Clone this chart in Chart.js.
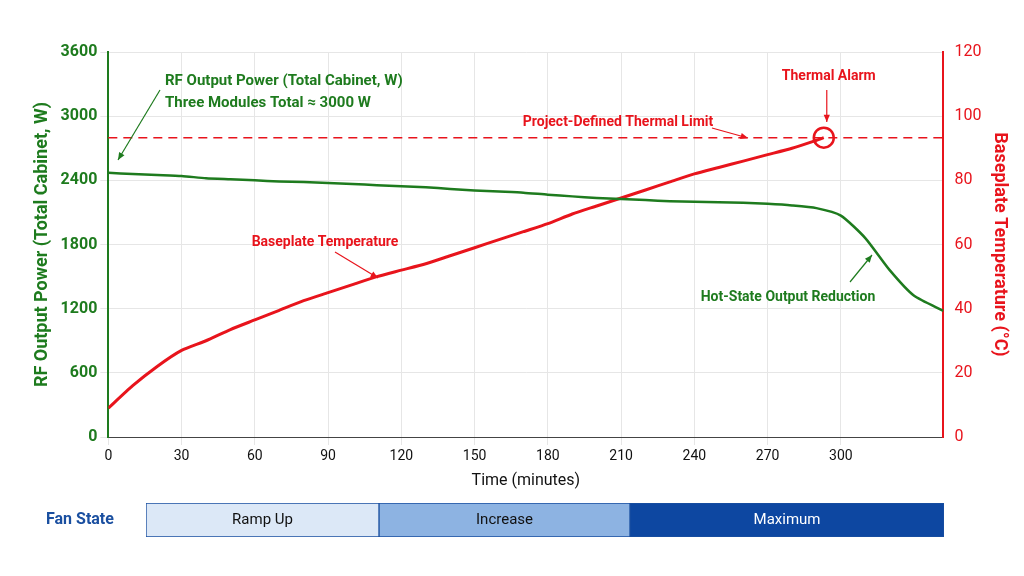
<!DOCTYPE html>
<html><head><meta charset="utf-8">
<script src="https://cdn.jsdelivr.net/npm/chart.js@4"></script>
<style>
body{margin:0;background:#fff;font-family:Roboto,sans-serif}
#w1{position:absolute;left:0;top:0;width:1024px;height:495px}
#w2{position:absolute;left:0;top:495px;width:1024px;height:50px}
</style></head><body>
<div id="w1"><canvas id="c1"></canvas></div>
<div id="w2"><canvas id="c2"></canvas></div>
<script>
const powerTimes=[0,10,20,30,40,50,60,70,80,90,100,110,120,130,140,150,160,170,180,190,200,210,220,230,240,250,260,270,280,290,300,310,320,330,342];
const powerValues=[2470,2460,2450,2440,2420,2410,2400,2390,2385,2375,2365,2355,2345,2335,2320,2305,2295,2285,2265,2250,2235,2225,2215,2205,2200,2195,2190,2180,2165,2140,2070,1860,1560,1320,1180];
const tempTimes=[0,10,20,30,40,50,60,70,80,90,100,110,120,130,140,150,160,170,180,190,200,210,220,230,240,250,260,270,280,290,293];
const tempValues=[9,16,22,27,30,33.5,36.5,39.5,42.5,45,47.5,50,52,54,56.5,59,61.5,64,66.5,69.5,72,74.5,77,79.5,82,84,86,88,90,92.5,93.3];
const thermalLimit=93.3, alarmTime=293;
const fanStates=["Ramp Up","Increase","Maximum"];
const fanStarts=[0,233,484];
const fanEnds=[233,484,798];
const fanColors=["#dce8f7","#8db3e2","#0d47a1"];
const G="#1e7b1e",R="#e8141c",F="Roboto, sans-serif";

const ann={id:'ann',afterDatasetsDraw(ch){
 const c=ch.ctx,x=ch.scales.x,yR=ch.scales.yR,ca=ch.chartArea;
 const ly=yR.getPixelForValue(thermalLimit);
 c.save();
 c.strokeStyle=R;c.lineWidth=1.5;c.setLineDash([9,6]);
 c.beginPath();c.moveTo(ca.left,ly);c.lineTo(ca.right,ly);c.stroke();c.setLineDash([]);
 const ax=x.getPixelForValue(alarmTime);
 c.lineWidth=2.5;c.beginPath();c.arc(ax,ly,10,0,Math.PI*2);c.stroke();
 c.font="bold 14px "+F;c.fillStyle=R;c.textAlign="center";
 c.fillText("Thermal Alarm",ax+5,80);
 arrow(c,ax+3,90,ax+3,122,R);
 c.fillText("Project-Defined Thermal Limit",618,126);
 arrow(c,712,128,748,138,R);
 c.fillText("Baseplate Temperature",325,246);
 arrow(c,335,252,378,278,R);
 c.fillStyle=G;c.fillText("Hot-State Output Reduction",788,301);
 arrow(c,850,282,872,255,G);
 c.textAlign="left";c.font="bold 15px "+F;
 c.fillText("RF Output Power (Total Cabinet, W)",165,85);
 c.fillText("Three Modules Total \u2248 3000 W",165,107);
 arrow(c,160,90,118,160,G);
 c.restore();
}};
function arrow(c,x1,y1,x2,y2,col){
 c.strokeStyle=col;c.fillStyle=col;c.lineWidth=1.2;
 c.beginPath();c.moveTo(x1,y1);c.lineTo(x2,y2);c.stroke();
 const a=Math.atan2(y2-y1,x2-x1);
 c.beginPath();c.moveTo(x2,y2);c.lineTo(x2-8*Math.cos(a-0.4),y2-8*Math.sin(a-0.4));c.lineTo(x2-8*Math.cos(a+0.4),y2-8*Math.sin(a+0.4));c.closePath();c.fill();
}
new Chart(document.getElementById('c1'),{type:'line',
 data:{datasets:[
  {data:powerTimes.map((t,i)=>({x:t,y:powerValues[i]})),borderColor:G,borderWidth:2.5,pointRadius:0,yAxisID:'yL',tension:0.2},
  {data:tempTimes.map((t,i)=>({x:t,y:tempValues[i]})),borderColor:R,borderWidth:3,pointRadius:0,yAxisID:'yR',tension:0.2}]},
 options:{responsive:true,maintainAspectRatio:false,animation:false,
  layout:{padding:{left:28,right:10,top:52,bottom:0}},
  plugins:{legend:{display:false},tooltip:{enabled:false}},
  scales:{
   x:{type:'linear',min:0,max:342,afterBuildTicks:s=>{s.ticks=s.ticks.filter(t=>t.value%30===0);},
      ticks:{stepSize:30,color:'#111',font:{size:14,family:F}},
      grid:{color:'#e6e6e6'},border:{color:'#444'},
      title:{display:true,text:'Time (minutes)',color:'#111',font:{size:16,family:F}}},
   yL:{position:'left',min:0,max:3600,ticks:{stepSize:600,color:G,callback:v=>String(v),font:{size:16,weight:'bold',family:F}},
      grid:{color:'#e6e6e6'},border:{color:G,width:2},
      title:{display:true,text:'RF Output Power (Total Cabinet, W)',color:G,font:{size:18,weight:'bold',family:F}}},
   yR:{position:'right',min:0,max:120,ticks:{stepSize:20,color:R,callback:v=>String(v),font:{size:16,family:F}},
      grid:{display:false},border:{color:R,width:2},
      title:{display:true,text:'Baseplate Temperature (°C)',color:R,font:{size:18,weight:'bold',family:F}}}}},
 plugins:[ann]});

const fanLabel={id:'fl',afterDatasetsDraw(ch){
 const c=ch.ctx,x=ch.scales.x,y=ch.scales.y;c.save();
 c.font="bold 16px "+F;c.fillStyle="#1a4fa0";c.textAlign="left";c.textBaseline="middle";
 c.fillText("Fan State",46,y.getPixelForValue(0));
 c.font="15px "+F;c.textAlign="center";
 fanStates.forEach((s,i)=>{c.fillStyle=i==2?"#fff":"#111";c.fillText(s,x.getPixelForValue((fanStarts[i]+fanEnds[i])/2),y.getPixelForValue(0));});
 c.restore();}};
new Chart(document.getElementById('c2'),{type:'bar',
 data:{labels:['Fan'],datasets:fanStates.map((s,i)=>({data:[[fanStarts[i],fanEnds[i]]],backgroundColor:fanColors[i],borderColor:'#1a4fa0',borderWidth:1,barPercentage:1,categoryPercentage:1,borderSkipped:false}))},
 options:{indexAxis:'y',responsive:true,maintainAspectRatio:false,animation:false,
  layout:{padding:{left:146,right:80,top:8,bottom:8}},
  plugins:{legend:{display:false},tooltip:{enabled:false}},
  scales:{x:{display:false,min:0,max:798,stacked:false},y:{display:false,stacked:true}}},
 plugins:[fanLabel]});
</script></body></html>
